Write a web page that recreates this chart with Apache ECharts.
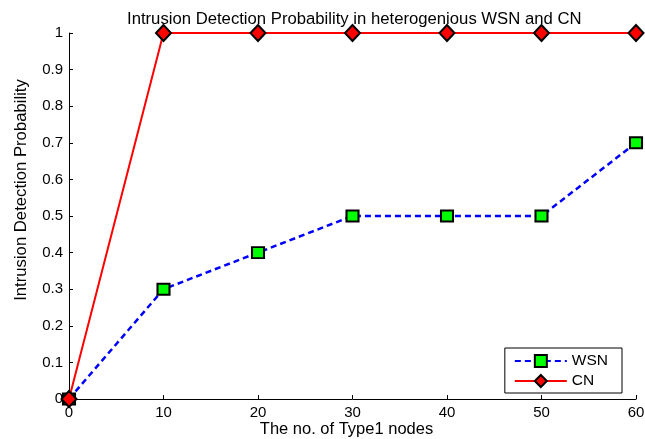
<!DOCTYPE html>
<html><head><meta charset="utf-8">
<script src="https://cdn.jsdelivr.net/npm/echarts@6/dist/echarts.min.js"></script>
<style>html,body{margin:0;padding:0;background:#fff}#c{width:645px;height:439px}</style>
</head><body><div id="c"></div>
<script>
var categories = [0, 10, 20, 30, 40, 50, 60];
var wsn = [0, 0.3, 0.4, 0.5, 0.5, 0.5, 0.7];
var cn = [0, 1, 1, 1, 1, 1, 1];
var yTicks = [0, 0.1, 0.2, 0.3, 0.4, 0.5, 0.6, 0.7, 0.8, 0.9, 1];

var font = 'Arial, "Liberation Sans", sans-serif';
var chart = echarts.init(document.getElementById('c'));
chart.setOption({
  animation: false,
  backgroundColor: '#fff',
  title: {
    text: 'Intrusion Detection Probability in heterogenious WSN and CN',
    left: 122, top: 6,
    textStyle: {fontFamily: font, fontSize: 16.7, fontWeight: 'normal', color: '#000'}
  },
  grid: {left: 69, right: 9, top: 33, bottom: 40, containLabel: false, outerBoundsMode: 'none'},
  graphic: [{
    type: 'text', x: 21, y: 190, rotation: Math.PI / 2,
    style: {text: 'Intrusion Detection Probability', fontFamily: font, fontSize: 16.7,
      fill: '#000', align: 'center', verticalAlign: 'middle'}
  }],
  legend: {
    orient: 'vertical',
    right: 23, bottom: 46,
    data: ['WSN', 'CN'],
    itemWidth: 52, itemHeight: 15, itemGap: 4,
    padding: [5, 14, 4, 9],
    borderColor: '#000', borderWidth: 1,
    backgroundColor: '#fff',
    textStyle: {fontFamily: font, fontSize: 15.5, color: '#000'}
  },
  xAxis: {
    type: 'value', min: 0, max: 60, interval: 10,
    name: 'The no. of Type1 nodes', nameLocation: 'middle', nameGap: 22,
    nameMoveOverlap: false,
    nameTextStyle: {fontFamily: font, fontSize: 16.5, color: '#000', padding: [0, 12, 0, 0]},
    axisLine: {lineStyle: {color: '#000', width: 1}},
    axisTick: {inside: true, length: 4, lineStyle: {color: '#000'}},
    axisLabel: {fontFamily: font, fontSize: 15, color: '#000', margin: 6},
    splitLine: {show: false}
  },
  yAxis: {
    type: 'value', min: 0, max: 1, interval: 0.1,
    axisLine: {show: true, lineStyle: {color: '#000', width: 1}},
    axisTick: {show: true, inside: true, length: 4, lineStyle: {color: '#000'}},
    axisLabel: {fontFamily: font, fontSize: 15, color: '#000', margin: 6,
      formatter: function (v) { return String(Math.round(v * 10) / 10); }},
    splitLine: {show: false}
  },
  series: [
    {
      name: 'WSN', type: 'line',
      data: categories.map(function (x, i) { return [x, wsn[i]]; }),
      lineStyle: {color: '#0000ff', width: 2.5, type: [6, 4]},
      symbol: 'rect', symbolSize: [12, 11],
      itemStyle: {color: '#00ff00', borderColor: '#000', borderWidth: 2},
      z: 2
    },
    {
      name: 'CN', type: 'line',
      data: categories.map(function (x, i) { return [x, cn[i]]; }),
      lineStyle: {color: '#ff0000', width: 2},
      symbol: 'diamond', symbolSize: [15, 16],
      itemStyle: {color: '#ff0000', borderColor: '#000', borderWidth: 2},
      z: 3
    }
  ]
});
</script></body></html>
